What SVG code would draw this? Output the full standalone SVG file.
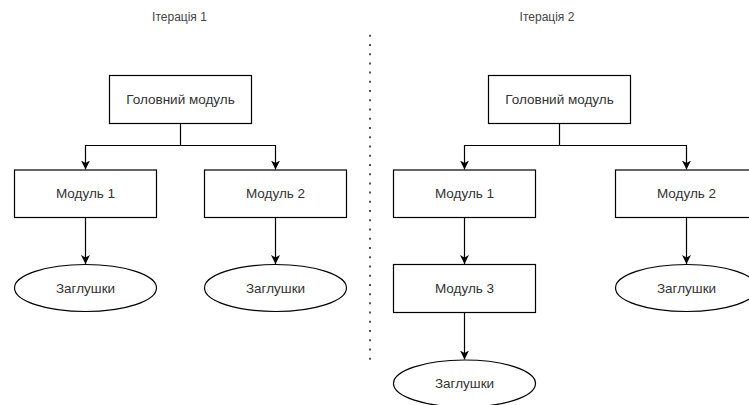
<svg xmlns="http://www.w3.org/2000/svg" width="749" height="405" viewBox="0 0 749 405">
  <style>
    .box { fill: #ffffff; stroke: #000000; stroke-width: 1.2; }
    .lbl { font-family: "Liberation Sans", Arial, sans-serif; font-size: 13.5px; fill: #333333; text-anchor: middle; }
    .title { font-family: "Liberation Sans", Arial, sans-serif; font-size: 12px; fill: #444444; text-anchor: middle; }
    .edge { fill: none; stroke: #000000; stroke-width: 1.2; }
    .sep { stroke: #555555; stroke-width: 2; stroke-dasharray: 2 7.23; }
  </style>
  <defs>
    <marker id="arrow" markerUnits="userSpaceOnUse" markerWidth="10" markerHeight="10" refX="9" refY="5" orient="auto">
      <path d="M0,0.5 L9,5 L0,9.5 L2.5,5 Z" fill="#000000"/>
    </marker>
  </defs>

  <rect width="749" height="405" fill="#ffffff"/>

  <!-- column headings -->
  <text class="title" x="179.5" y="20.5">Ітерація 1</text>
  <text class="title" x="547" y="20.5">Ітерація 2</text>

  <!-- divider between the two iterations -->
  <line class="sep" x1="370" y1="34.7" x2="370" y2="360"/>

  <!-- connectors -->
  <g id="connectors">
    <path class="edge" d="M180.5,123.5 V145.5"/>
    <path class="edge" d="M180.5,145.5 H85.5 V169.5" marker-end="url(#arrow)"/>
    <path class="edge" d="M180.5,145.5 H275.5 V169.5" marker-end="url(#arrow)"/>
    <path class="edge" d="M85.5,217.5 V264" marker-end="url(#arrow)"/>
    <path class="edge" d="M275.5,217.5 V264" marker-end="url(#arrow)"/>

    <path class="edge" d="M559.5,123.5 V145.5"/>
    <path class="edge" d="M559.5,145.5 H464.5 V169.5" marker-end="url(#arrow)"/>
    <path class="edge" d="M559.5,145.5 H686.5 V169.5" marker-end="url(#arrow)"/>
    <path class="edge" d="M464.5,217.5 V264" marker-end="url(#arrow)"/>
    <path class="edge" d="M686.5,217.5 V264" marker-end="url(#arrow)"/>
    <path class="edge" d="M464.5,312.5 V359.5" marker-end="url(#arrow)"/>
  </g>

  <!-- iteration 1 -->
  <g id="it1-main">
    <rect class="box" x="109.5" y="75.5" width="142" height="48"/>
    <text class="lbl" x="180.5" y="104">Головний модуль</text>
  </g>
  <g id="it1-module1">
    <rect class="box" x="14.5" y="170" width="142" height="47.5"/>
    <text class="lbl" x="85.5" y="198">Модуль 1</text>
  </g>
  <g id="it1-module2">
    <rect class="box" x="204.5" y="170" width="142" height="47.5"/>
    <text class="lbl" x="275.5" y="198">Модуль 2</text>
  </g>
  <g id="it1-stub1">
    <ellipse class="box" cx="85.5" cy="288" rx="71" ry="23.5"/>
    <text class="lbl" x="85.5" y="292.5">Заглушки</text>
  </g>
  <g id="it1-stub2">
    <ellipse class="box" cx="275.5" cy="288" rx="71" ry="23.5"/>
    <text class="lbl" x="275.5" y="292.5">Заглушки</text>
  </g>

  <!-- iteration 2 -->
  <g id="it2-main">
    <rect class="box" x="488.5" y="75.5" width="142" height="48"/>
    <text class="lbl" x="559.5" y="104">Головний модуль</text>
  </g>
  <g id="it2-module1">
    <rect class="box" x="393.5" y="170" width="142" height="47.5"/>
    <text class="lbl" x="464.5" y="198">Модуль 1</text>
  </g>
  <g id="it2-module2">
    <rect class="box" x="615.5" y="170" width="142" height="47.5"/>
    <text class="lbl" x="686.5" y="198">Модуль 2</text>
  </g>
  <g id="it2-module3">
    <rect class="box" x="393.5" y="264.5" width="142" height="48"/>
    <text class="lbl" x="464.5" y="293">Модуль 3</text>
  </g>
  <g id="it2-stub1">
    <ellipse class="box" cx="686.5" cy="288" rx="71" ry="23.5"/>
    <text class="lbl" x="686.5" y="292.5">Заглушки</text>
  </g>
  <g id="it2-stub3">
    <ellipse class="box" cx="464.5" cy="383.5" rx="71" ry="23.5"/>
    <text class="lbl" x="464.5" y="388">Заглушки</text>
  </g>
</svg>
